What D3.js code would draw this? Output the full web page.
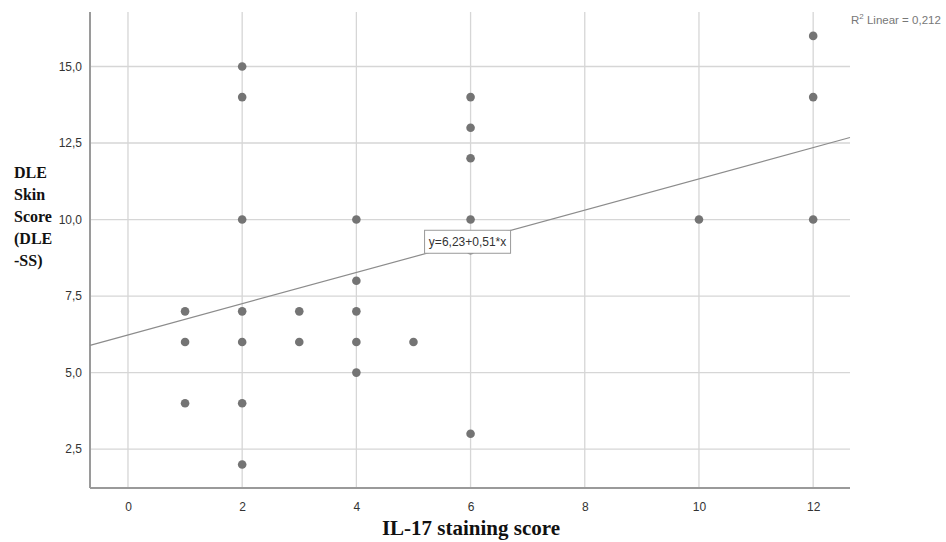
<!DOCTYPE html>
<html>
<head>
<meta charset="utf-8">
<script src="https://cdn.jsdelivr.net/npm/d3@7"></script>
<style>
  body { margin: 0; background: #fff; }
  svg { display: block; }
</style>
</head>
<body>
<svg id="chart" width="946" height="542"></svg>
<script>
// IL-17 staining score vs DLE skin score
const il17 = [1, 1, 1, 2, 2, 2, 2, 2, 2, 2, 3, 3, 4, 4, 4, 4, 4, 5, 6, 6, 6, 6, 6, 6, 10, 12, 12, 12];
const dless = [7, 6, 4, 15, 14, 10, 7, 6, 4, 2, 7, 6, 10, 8, 7, 6, 5, 6, 14, 13, 12, 10, 9, 3, 10, 16, 14, 10];
const xTicks = [0, 2, 4, 6, 8, 10, 12];
const yTicks = [2.5, 5, 7.5, 10, 12.5, 15];
const fit = { a: 6.23, b: 0.51 };
const r2Text = "0,212";
const eqText = "y=6,23+0,51*x";
const yTitle = ["DLE", "Skin", "Score", "(DLE", "-SS)"];
const xTitle = "IL-17 staining score";

const svg = d3.select("#chart");
const m = { left: 90, right: 850, top: 12, bottom: 488 };

const x = d3.scaleLinear().domain([-0.665, 12.645]).range([m.left, m.right]);
const y = d3.scaleLinear().domain([1.23, 16.78]).range([m.bottom, m.top]);
const fmt = d => d3.format(".1f")(d).replace(".", ",");

// grid
const grid = svg.append("g").attr("stroke", "#d6d6d6").attr("stroke-width", 1.3);
grid.selectAll("line.v").data(xTicks).join("line")
  .attr("x1", d => x(d)).attr("x2", d => x(d))
  .attr("y1", m.top).attr("y2", m.bottom);
grid.selectAll("line.h").data(yTicks).join("line")
  .attr("x1", m.left).attr("x2", m.right)
  .attr("y1", d => y(d)).attr("y2", d => y(d));

// axes
const xAxis = svg.append("g").attr("transform", `translate(0,${m.bottom})`)
  .call(d3.axisBottom(x).tickValues(xTicks).tickSize(0).tickPadding(14));
const yAxis = svg.append("g").attr("transform", `translate(${m.left},0)`)
  .call(d3.axisLeft(y).tickValues(yTicks).tickFormat(fmt).tickSize(0).tickPadding(8));
[xAxis, yAxis].forEach(g => {
  g.select(".domain").attr("stroke", "#9a9a9a").attr("stroke-width", 2);
  g.selectAll("text").attr("fill", "#333").attr("font-family", "Arial, 'Liberation Sans', sans-serif").attr("font-size", 12);
});
xAxis.select(".domain").attr("d", `M${m.left},0H${m.right}`);
yAxis.select(".domain").attr("d", `M0,${m.top}V${m.bottom}`);

// fit line
const x0 = x.domain()[0], x1 = x.domain()[1];
svg.append("line")
  .attr("x1", x(x0)).attr("y1", y(fit.a + fit.b * x0))
  .attr("x2", x(x1)).attr("y2", y(fit.a + fit.b * x1))
  .attr("stroke", "#8c8c8c").attr("stroke-width", 1.2);

// points
svg.append("g").selectAll("circle").data(il17).join("circle")
  .attr("cx", d => x(d)).attr("cy", (d, i) => y(dless[i]))
  .attr("r", 4.3).attr("fill", "#747474");

// equation label
const eq = svg.append("g").attr("transform", `translate(${x(6) - 3},${y(8.98) - 9})`);
eq.append("rect").attr("x", -43).attr("y", -11.5).attr("width", 86).attr("height", 23)
  .attr("fill", "#fff").attr("stroke", "#999").attr("stroke-width", 1);
eq.append("text").attr("text-anchor", "middle").attr("dy", "0.35em")
  .attr("font-family", "Arial, 'Liberation Sans', sans-serif").attr("font-size", 12)
  .attr("fill", "#333").text(eqText);

// R2 label
const r2 = svg.append("text").attr("x", 851).attr("y", 24)
  .attr("font-family", "Arial, 'Liberation Sans', sans-serif").attr("font-size", 11.5)
  .attr("fill", "#777");
r2.append("tspan").text("R");
r2.append("tspan").attr("dy", -5).attr("font-size", 8).text("2");
r2.append("tspan").attr("dy", 5).text(" Linear = " + r2Text);

// titles
svg.append("text").attr("x", (m.left + m.right) / 2 + 1).attr("y", 535)
  .attr("text-anchor", "middle")
  .attr("font-family", "'Liberation Serif', 'Times New Roman', serif")
  .attr("font-weight", "bold").attr("font-size", 21).attr("fill", "#111")
  .text(xTitle);

svg.append("g").selectAll("text").data(yTitle).join("text")
  .attr("x", 14).attr("y", (d, i) => 178 + i * 22)
  .attr("font-family", "'Liberation Serif', 'Times New Roman', serif")
  .attr("font-weight", "bold").attr("font-size", 16).attr("fill", "#111")
  .text(d => d);
</script>
</body>
</html>
